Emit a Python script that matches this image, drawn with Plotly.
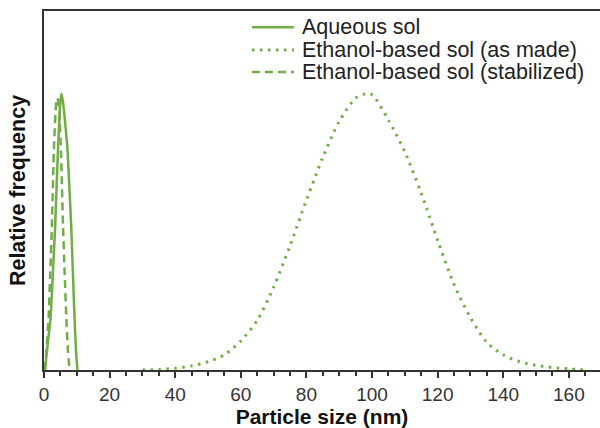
import plotly.graph_objects as go

# Aqueous sol (solid)
aq_x = [0.3, 1.0, 2.0, 2.7, 3.4, 4.3, 5.0, 5.3, 5.8, 6.4, 7.1, 7.7, 8.3, 9.3, 9.8, 10.2]
aq_y = [0.0, 0.08, 0.19, 0.35, 0.52, 0.81, 0.97, 1.0, 0.97, 0.90, 0.81, 0.67, 0.52, 0.19, 0.06, 0.0]

# Ethanol-based sol (stabilized) (dashed)
st_x = [0.3, 0.8, 1.4, 1.9, 2.4, 3.05, 3.6, 3.9, 4.1, 4.3, 4.6, 5.2, 5.8, 6.3, 6.8, 7.3, 7.8]
st_y = [0.0, 0.08, 0.19, 0.35, 0.52, 0.81, 0.95, 0.98, 0.985, 0.975, 0.95, 0.78, 0.52, 0.35, 0.19, 0.07, 0.0]

# Ethanol-based sol (as made) (dotted)
em_x = [30, 35, 40, 45, 50, 55, 60, 65, 70, 75, 80, 85, 90, 95, 98, 100,
        105, 110, 115, 120, 125, 130, 135, 140, 145, 150, 155, 160, 165]
em_y = [0.0, 0.002, 0.006, 0.015, 0.03, 0.055, 0.105, 0.18, 0.30, 0.45, 0.615, 0.77, 0.90, 0.985, 1.0, 0.997,
        0.905, 0.79, 0.64, 0.47, 0.31, 0.19, 0.10, 0.055, 0.03, 0.017, 0.009, 0.004, 0.0]

series_names = ["Aqueous sol", "Ethanol-based sol (as made)", "Ethanol-based sol (stabilized)"]

x_range = [0, 169.5]
y_range = [0, 1.3]
x_tickvals = [0, 20, 40, 60, 80, 100, 120, 140, 160]

GREEN = "#70AD47"
styles = [
    dict(color=GREEN, width=2.5),
    dict(color=GREEN, width=3, dash="2.5px,5.5px"),
    dict(color=GREEN, width=2.5, dash="8px,5px"),
]

fig = go.Figure()
for (xs, ys, name, st, sm) in [(aq_x, aq_y, series_names[0], styles[0], 0.6),
                               (em_x, em_y, series_names[1], styles[1], 0.8),
                               (st_x, st_y, series_names[2], styles[2], 0.6)]:
    fig.add_trace(go.Scatter(x=xs, y=ys, mode="lines", name=name, showlegend=False,
                             line=dict(**st, shape="spline", smoothing=sm)))

# Legend drawn as compact rows (Excel-like spacing)
legend_rows_y = [0.955, 0.8915, 0.830]
for name, st, yy in zip(series_names, styles, legend_rows_y):
    fig.add_shape(type="line", xref="paper", yref="paper", x0=0.374, x1=0.4496, y0=yy, y1=yy,
                  line=st)
    fig.add_annotation(xref="paper", yref="paper", x=0.460, y=yy, xanchor="left", yanchor="middle",
                       text=name, showarrow=False, font=dict(size=21.5, color="#222222"))

fig.update_layout(
    width=600, height=428,
    margin=dict(l=44, r=0, t=11, b=56),
    paper_bgcolor="white", plot_bgcolor="white",
    font=dict(family="Liberation Sans, Arial, sans-serif", color="#222222"),
    showlegend=False,
    xaxis=dict(range=x_range, tickvals=x_tickvals, showgrid=False, zeroline=False,
               showline=True, linecolor="#333333", linewidth=2, mirror=True,
               ticks="outside", ticklen=6, tickwidth=1.5, tickcolor="#333333",
               tickfont=dict(size=19, color="#333333"),
               minor=dict(dtick=5, ticks="outside", ticklen=4, tickwidth=1.5, tickcolor="#333333"),
               title=dict(text="<b>Particle size (nm)</b>", font=dict(size=21, color="#111111"), standoff=9)),
    yaxis=dict(range=y_range, showgrid=False, zeroline=False, showticklabels=False,
               showline=True, linecolor="#333333", linewidth=2, ticks="",
               title=dict(text="<b>Relative frequency</b>", font=dict(size=21.5, color="#111111"), standoff=10)),
)

fig.write_html("out.html")
